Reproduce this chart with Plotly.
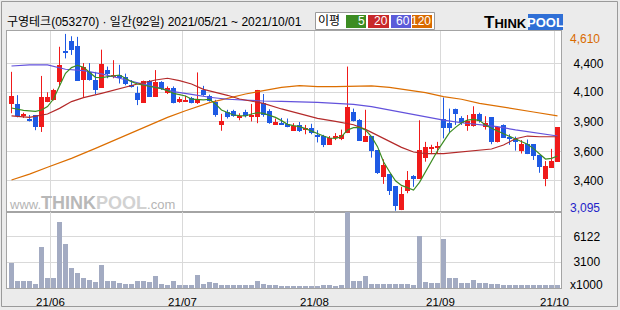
import plotly.graph_objects as go

# ---------------- data ----------------
title_text = "구영테크(053270) · 일간(92일) 2021/05/21 ~ 2021/10/01"
month_start_idx = [7, 29, 51, 72, 91]
month_labels = ["21/06", "21/07", "21/08", "21/09", "21/10"]

opens = [4010,4010,3905,3880,3915,3815,4030,4045,4195,4465,
         4550,4505,4215,4280,4215,4150,4300,4240,4260,4245,
         4170,4105,4020,4205,4070,4200,4100,4145,4030,4030,
         4060,4020,4130,4080,4030,3830,3940,3950,3890,3940,
         3905,3895,4015,3950,3830,3850,3840,3780,3830,3790,
         3800,3740,3735,3660,3715,3710,3765,3940,3870,3685,
         3735,3615,3380,3410,3305,3105,3265,3395,3370,3545,
         3620,3635,3880,3845,3965,3890,3820,3820,3925,3815,
         3895,3680,3830,3730,3710,3610,3665,3665,3570,3370,
         3465,3515]
highs = [4285,4085,3935,3915,3915,4250,4110,4140,4500,4610,
         4590,4585,4360,4360,4285,4475,4330,4385,4345,4270,
         4215,4160,4210,4215,4300,4205,4160,4160,4070,4080,
         4070,4280,4165,4090,4045,3925,3960,3960,3930,3960,
         4010,4130,4095,3965,3885,3890,3885,3845,3855,3830,
         3840,3785,3745,3735,3760,3790,4330,3970,3880,3960,
         3735,3615,3535,3410,3305,3300,3435,3400,3870,3685,
         3660,3685,4065,3970,3970,3905,3915,3990,3935,3905,
         3895,3820,3835,3750,3730,3700,3705,3665,3570,3520,
         3625,3810]
lows = [3930,3895,3890,3860,3785,3770,4025,4040,4160,4400,
        4430,4210,4070,4210,4095,4150,4230,4230,4185,4170,
        4150,4000,4020,4070,4070,4130,4095,4015,4020,4030,
        4015,4010,4080,4030,3900,3780,3885,3900,3870,3895,
        3860,3845,3900,3840,3830,3830,3810,3780,3770,3750,
        3750,3680,3640,3660,3700,3700,3760,3860,3695,3685,
        3550,3410,3325,3230,3095,3100,3245,3300,3370,3515,
        3580,3590,3715,3765,3830,3830,3780,3815,3850,3790,
        3665,3680,3720,3660,3610,3585,3580,3530,3420,3305,
        3465,3515]
closes = [4080,3905,3925,3860,3815,4070,4070,4130,4345,4445,
          4475,4210,4330,4215,4130,4355,4265,4260,4235,4180,
          4160,4040,4205,4070,4200,4135,4145,4020,4050,4045,
          4020,4050,4085,4035,3915,3865,3895,3905,3900,3905,
          3915,4130,3915,3845,3855,3835,3815,3820,3780,3800,
          3765,3730,3660,3720,3735,3745,3985,3865,3695,3735,
          3610,3415,3485,3260,3135,3240,3360,3370,3615,3645,
          3645,3650,3800,3805,3925,3845,3865,3920,3860,3845,
          3680,3810,3720,3710,3680,3665,3585,3565,3470,3480,
          3525,3810]
volume_k = [3040,790,790,790,510,4940,1150,1150,7900,5250,
            2370,1860,1260,990,670,2770,790,790,590,510,
            510,790,870,670,1460,510,395,790,395,395,
            395,1580,470,670,590,395,315,395,395,395,
            395,790,435,395,315,275,275,275,275,275,
            275,275,395,395,275,395,9600,870,790,1460,
            510,510,435,510,510,435,435,315,6200,750,
            550,550,5850,1150,1260,630,550,990,550,630,
            510,510,395,395,395,395,395,315,395,395,
            395,395]

ma5_x = [0,2] + list(range(4, 92))
ma5 = [3975,3955,3947,3958,3987,4052,4164,4272,4321,4341,4324,4278,4238,4235,4244,4250,4258,4230,
       4201,4181,4172,4158,4155,4141,4124,4101,4090,4078,4052,4047,4044,4050,4010,3958,3935,3915,
       3909,3907,3924,3935,3929,3915,3895,3867,3835,3824,3815,3798,3775,3752,3735,3718,3715,3729,
       3787,3807,3809,3787,3729,3644,3515,3429,3352,3312,3289,3272,3338,3429,3524,3609,3687,3764,
       3809,3849,3872,3878,3867,3829,3801,3778,3752,3729,3709,3689,3664,3627,3581,3538,3544,3564]
ma20_x = [0,3,6,8,10,12,15,18,21,24,26,28,30,32,34,36,38,40,42,45,48,51,54,57,59,61,63,65,67,69,
          72,75,78,80,82,84,86,88,91]
ma20 = [3907,3895,3924,3972,4030,4064,4101,4144,4181,4215,4230,4210,4181,4135,4110,4084,4052,4032,
        4015,3967,3924,3887,3861,3832,3792,3741,3687,3638,3598,3584,3584,3598,3609,3624,3658,3712,
        3735,3729,3729]
ma60_x = [0,3,6,9,12,15,18,21,24,27,30,33,36,39,42,45,48,51,54,57,60,63,66,69,72,75,78,81,84,87,91]
ma60 = [4335,4344,4344,4307,4295,4267,4230,4192,4158,4115,4092,4067,4050,4041,4035,4032,4030,4024,
        4015,4007,3987,3958,3929,3901,3872,3849,3835,3815,3787,3764,3735]
ma120_x = [0,3,6,10,14,17,20,23,26,29,33,36,39,42,45,48,51,54,57,60,63,66,69,72,75,78,81,84,87,91]
ma120 = [3358,3409,3467,3544,3629,3695,3764,3829,3895,3952,4021,4058,4095,4124,4152,4167,4158,4158,
         4158,4164,4152,4130,4107,4072,4050,4015,3992,3964,3941,3907]

price_grid_vals = [4358, 4110, 3861, 3604, 3355]
price_grid_text = ["4,400", "4,100", "3,900", "3,600", "3,400"]
max_label, min_label = "4,610", "3,095"
vol_tick_vals = [6122, 3100]
vol_tick_text = ["6122", "3100"]

# ---------------- styles ----------------
UP, DOWN = "#f01a1a", "#1e5ae4"
C5, C20, C60, C120 = "#3c8c22", "#b42a2a", "#6352dc", "#dc6e00"
VOLC = "#a3abc2"
GRID = "#d9d9d9"
FRAME = "#a4a4a4"
FONT = "Liberation Sans, Noto Sans CJK KR, sans-serif"

W, H = 620, 310
L, R, T, B = 7, 561, 31, 288
def px(x):
    return (x - L) / (R - L)
def py(y):
    return (B - y) / (B - T)
split = py(212)

n = len(closes)
idx = list(range(n))
up = [i for i in idx if closes[i] >= opens[i]]
dn = [i for i in idx if closes[i] < opens[i]]

fig = go.Figure()

def wick_trace(ids, color):
    xs, ys = [], []
    for i in ids:
        xs += [i, i, None]
        ys += [lows[i], highs[i], None]
    return go.Scatter(x=xs, y=ys, mode="lines", line=dict(color=color, width=1),
                      hoverinfo="skip", showlegend=False, xaxis="x", yaxis="y")

def body_trace(ids, color):
    base = [min(opens[i], closes[i]) for i in ids]
    hgt = [max(abs(closes[i] - opens[i]), 3) for i in ids]
    return go.Bar(x=ids, y=hgt, base=base, width=0.83, marker=dict(color=color, line=dict(width=0)),
                  hoverinfo="skip", showlegend=False, xaxis="x", yaxis="y")

fig.add_trace(wick_trace(up, UP))
fig.add_trace(wick_trace(dn, DOWN))
fig.add_trace(body_trace(up, UP))
fig.add_trace(body_trace(dn, DOWN))

for xs, ys, c in [(ma120_x, ma120, C120), (ma60_x, ma60, C60), (ma20_x, ma20, C20), (ma5_x, ma5, C5)]:
    fig.add_trace(go.Scatter(x=xs, y=ys, mode="lines", line=dict(color=c, width=1.2),
                             hoverinfo="skip", showlegend=False, xaxis="x", yaxis="y"))

fig.add_trace(go.Bar(x=idx, y=volume_k, width=0.83, marker=dict(color=VOLC, line=dict(width=0)),
                     hoverinfo="skip", showlegend=False, xaxis="x2", yaxis="y2"))

grid_x = [m - 0.5 for m in month_start_idx]
xr = [-0.75, -0.75 + (R - L) / 6.0]

common = dict(showgrid=True, gridcolor=GRID, gridwidth=1, zeroline=False, automargin=False,
              showline=True, mirror=True, linecolor=FRAME, linewidth=1, ticks="")
tf = dict(family=FONT, size=12, color="black")

fig.update_layout(
    width=W, height=H,
    margin=dict(l=L, r=W - R, t=T, b=H - B, pad=0, autoexpand=False),
    paper_bgcolor="#ebebeb", plot_bgcolor="white",
    barmode="overlay", bargap=0,
    font=dict(family=FONT, size=12, color="black"),
    xaxis=dict(domain=[0, 1], anchor="y", range=xr, tickvals=grid_x, showticklabels=False, **common),
    yaxis=dict(domain=[split, 1], anchor="x", range=[3084, 4635], side="right",
               tickvals=price_grid_vals, ticktext=price_grid_text,
               ticklabelstandoff=9, tickfont=tf, **common),
    xaxis2=dict(domain=[0, 1], anchor="y2", range=xr, tickvals=grid_x, ticktext=month_labels,
                ticklabelstandoff=3, tickfont=dict(family=FONT, size=11.5, color="black"), **common),
    yaxis2=dict(domain=[0, split], anchor="x2", range=[0, 9120], side="right",
                tickvals=vol_tick_vals, ticktext=vol_tick_text,
                ticklabelstandoff=9, tickfont=tf, **common),
)

shapes = []
shapes.append(dict(type="rect", xref="paper", yref="paper", x0=px(1.5), x1=px(617.5),
                   y0=py(306.5), y1=py(1.5), line=dict(color="#9a9a9a", width=1), layer="below"))
shapes.append(dict(type="rect", xref="paper", yref="paper", x0=px(315.5), x1=px(434.5),
                   y0=py(29.5), y1=py(12.5), fillcolor="white", line=dict(color="#9a9a9a", width=1)))
for (x0, x1, c) in [(346, 366, C5), (368, 389, "#c8282a"), (391, 411, "#5b5bd9"), (412, 432, "#d96a00")]:
    shapes.append(dict(type="rect", xref="paper", yref="paper", x0=px(x0), x1=px(x1),
                       y0=py(28), y1=py(15), fillcolor=c, line=dict(width=0)))
shapes.append(dict(type="rect", xref="paper", yref="paper", x0=px(528), x1=px(563),
                   y0=py(30), y1=py(14), fillcolor="#2f6fd6", line=dict(width=0)))
fig.update_layout(shapes=shapes)

ann = []
def add_text(x, y, text, anchor="left", color="black", size=12, family=FONT, yanchor="middle"):
    ann.append(dict(xref="paper", yref="paper", x=px(x), y=py(y), text=text, showarrow=False,
                    xanchor=anchor, yanchor=yanchor, borderpad=0, borderwidth=0,
                    font=dict(family=family, size=size, color=color)))

add_text(7, 22, title_text, size=12)
add_text(329, 21, "이평", anchor="center", size=12)
for xr_, t in [(365, "5"), (388, "20"), (410, "60"), (431, "120")]:
    add_text(xr_, 21.5, t, anchor="right", color="white", size=12)
add_text(527, 22.5, "<b><span style='font-size:17px'>T</span>HINK</b>", anchor="right",
         size=13, family="Liberation Sans, Arial, sans-serif")
add_text(545.5, 22.5, "<b>POOL</b>", anchor="center", color="white", size=13,
         family="Liberation Sans, Arial, sans-serif")
add_text(92, 203, "<span style='color:#b5b5b5'>www.</span><b><span style='font-size:18px;color:#b8b8b8'>THINK</span>"
         "<span style='font-size:18px;color:#d2d2d2'>POOL</span></b><span style='color:#b5b5b5'>.com</span>",
         anchor="center", size=13, family="Liberation Sans, Arial, sans-serif")
add_text(570, 38.5, max_label, color="#d96a00")
add_text(570, 207.5, min_label, color="#2323c8")
add_text(570, 285, "x1000")
fig.update_layout(annotations=ann)

fig.write_html("out.html", config={"displayModeBar": False})
